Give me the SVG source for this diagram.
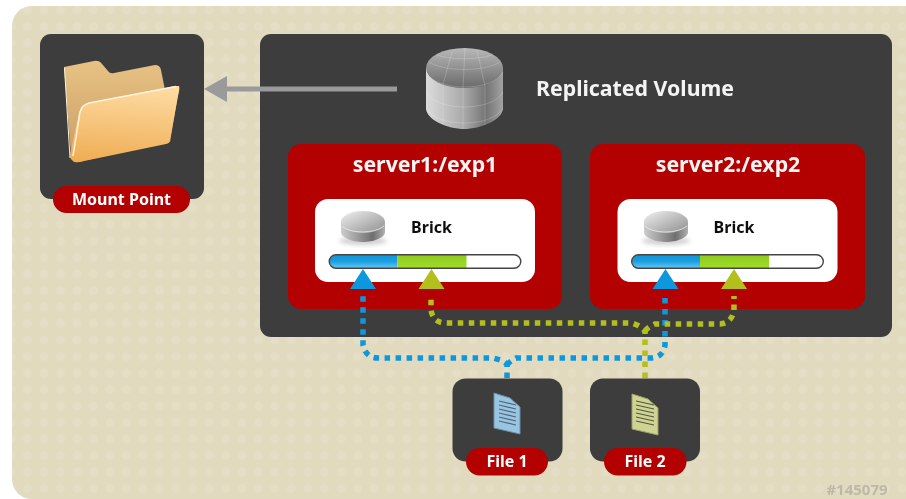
<svg xmlns="http://www.w3.org/2000/svg" width="906" height="499" viewBox="0 0 906 499">
<style>
text{font-family:"Noto Sans","Open Sans","DejaVu Sans",sans-serif;font-weight:700;text-anchor:middle}
.box{fill:#3d3d3d}
.red{fill:#b30000}
.pilltxt{fill:#fff;font-size:16px}
.title{fill:#f4f4f4;font-size:21.300px}
.white{fill:#fff}
.brick{fill:#111;font-size:16px}
.dash{fill:none;stroke-width:5.500;stroke-dasharray:5.500 5.500}
.blue{stroke:#0f97dc}
.lime{stroke:#b3bf1f}
.grid{fill:none;stroke:#fff;stroke-opacity:.28;stroke-width:.7}
</style>
<defs>
<pattern id="dots" width="16.5" height="16.5" patternUnits="userSpaceOnUse" x="3" y="2"><circle cx="8" cy="8" r="4.500" fill="#e8e3cf"/></pattern>
<linearGradient id="fb" x1="0" y1="0" x2="0" y2="1"><stop offset="0" stop-color="#e8c284"/><stop offset="1" stop-color="#c79c64"/></linearGradient>
<linearGradient id="ff" x1=".55" y1="0" x2=".45" y2="1"><stop offset="0" stop-color="#fddba3"/><stop offset="1" stop-color="#f0ae55"/></linearGradient>
<linearGradient id="barb" x1="0" y1="0" x2="0" y2="1"><stop offset="0" stop-color="#1193d8"/><stop offset=".5" stop-color="#1ba0e2"/><stop offset="1" stop-color="#6cc5f0"/></linearGradient>
<linearGradient id="barg" x1="0" y1="0" x2="0" y2="1"><stop offset="0" stop-color="#8ecb1c"/><stop offset="1" stop-color="#a0dc2a"/></linearGradient>
<linearGradient id="cyl" x1="0" y1="0" x2="1" y2="0"><stop offset="0" stop-color="#dcdcdc"/><stop offset=".5" stop-color="#a8a8a8"/><stop offset=".78" stop-color="#747474"/><stop offset="1" stop-color="#a2a2a2"/></linearGradient>
<linearGradient id="cylt" x1="0" y1="0" x2="0" y2="1"><stop offset="0" stop-color="#b8b8b8"/><stop offset="1" stop-color="#6a6a6a"/></linearGradient>
<linearGradient id="dt" x1="0" y1="0" x2="1" y2="1"><stop offset="0" stop-color="#f0f0f0"/><stop offset="1" stop-color="#8e8e8e"/></linearGradient>
<linearGradient id="ds" x1="0" y1="0" x2="1" y2="0"><stop offset="0" stop-color="#cdcdcd"/><stop offset=".72" stop-color="#6f6f6f"/><stop offset="1" stop-color="#b0b0b0"/></linearGradient>
<filter id="soft" x="-30%" y="-30%" width="160%" height="160%"><feGaussianBlur stdDeviation="2"/></filter>
<filter id="photo" x="0" y="0" width="100%" height="100%"><feGaussianBlur stdDeviation="0.45"/></filter>
<g id="disk">
<ellipse cx="0" cy="15" rx="24" ry="4" fill="#999" opacity=".45" filter="url(#soft)"/>
<path d="M-22-4V6C-22 12-10 16 0 16S22 12 22 6V-4Z" fill="url(#ds)"/>
<ellipse cx="0" cy="-4" rx="22" ry="11" fill="url(#dt)"/>
<path d="M-21 0C-14 8 12 8 21 0" fill="none" stroke="#eee" stroke-width=".8"/>
</g>
<g id="bar">
<rect x="0" y="0" width="193" height="15" rx="7.5" fill="#fff"/>
<path d="M69 1H7.5a6.5 6.5 0 0 0 0 13H69Z" fill="url(#barb)"/>
<rect x="69" y="1" width="69" height="13" fill="url(#barg)"/>
<rect x=".7" y=".7" width="191.600" height="13.600" rx="6.800" fill="none" stroke="#444" stroke-width="1.400"/>
</g>
<path id="tip" d="M0 0L13 20H-13Z"/>
<g id="sheet">
<path d="M0 0L16 5 26 14V41L0 35Z"/>
</g>
</defs>

<g filter="url(#photo)">
<g id="background">
<path d="M906 499H32A20 20 0 0 1 12 479V26A20 20 0 0 1 32 6H906Z" fill="#e1dabf"/>
<path d="M906 499H32A20 20 0 0 1 12 479V26A20 20 0 0 1 32 6H906Z" fill="url(#dots)" opacity=".42"/>
</g>

<g id="mount-point">
<rect class="box" x="40" y="34" width="164" height="165" rx="11"/>
<path d="M64 67L94 61Q99 60 102 64L108 71Q110 74 114 73L155 65Q160 65 161 70L165 90 179 88 170 142 78 162Q72 164 71 155Z" fill="url(#fb)"/>
<path d="M179 86Q180 88 178 96L170 140Q170 143 166 144L84 161Q75 164 72 160 69 158 71 150L79 113Q81 105 88 103L175 86Z" fill="url(#ff)"/>
<path d="M176 86.500L89 103Q82 105 80 112L73 156" fill="none" stroke="#fff3dc" stroke-width="1.500"/>
<path d="M64.500 68L70 158" fill="none" stroke="#fff3dc" stroke-width="1"/>
<rect class="red" x="53" y="186" width="137" height="27" rx="13.500"/>
<text class="pilltxt" x="121.500" y="205">Mount Point</text>
</g>

<g id="replicated-volume">
<rect class="box" x="260" y="34" width="632" height="303" rx="11"/>
<g id="volume-icon">
<path d="M426 68V108C426 120 448 129 464 129S503 120 503 108V68Z" fill="url(#cyl)"/>
<ellipse cx="464.500" cy="68" rx="38.500" ry="20" fill="url(#cylt)"/>
<path class="grid" d="M426 72C436 92 493 92 503 72M426 92C436 112 493 112 503 92M426 108C436 128 493 128 503 108M443 84V124M463 88V129M485 86V125M429 62C445 72 484 72 500 62M437 55C450 60 478 60 492 55M443 84L452 52M463 88L465 48M485 86L477 50"/>
</g>
<text class="title" x="635" y="96">Replicated Volume</text>
</g>

<g id="server1">
<rect class="red" x="288" y="144" width="274" height="165" rx="13"/>
<text class="title" x="425" y="172">server1:/exp1</text>
<rect class="white" x="315" y="199" width="220" height="83" rx="13"/>
<use href="#disk" x="363" y="226"/>
<text class="brick" x="431.500" y="233">Brick</text>
<use href="#bar" x="328.500" y="254"/>
</g>

<g id="server2">
<rect class="red" x="590" y="144" width="275" height="165" rx="13"/>
<text class="title" x="728" y="172">server2:/exp2</text>
<rect class="white" x="617.500" y="199" width="220" height="83" rx="13"/>
<use href="#disk" x="666" y="226"/>
<text class="brick" x="734" y="233">Brick</text>
<use href="#bar" x="631" y="254"/>
</g>

<g id="file1">
<rect class="box" x="452.500" y="378.500" width="110" height="83" rx="13"/>
<use href="#sheet" x="494" y="393" fill="#99c5e3" stroke="#6d8fa8" stroke-width="1"/>
<path d="M499 401L516 405M499 405L516 409M499 409L516 413M499 413L516 417M499 417L516 421M499 421L516 425" stroke="#4f6677" stroke-width="1.200"/>
<rect class="red" x="466" y="448" width="82" height="27.500" rx="13.700"/>
<text class="pilltxt" x="507" y="467">File 1</text>
</g>

<g id="file2">
<rect class="box" x="590" y="378.500" width="110" height="83" rx="13"/>
<use href="#sheet" x="632" y="394" fill="#cfd394" stroke="#9ba06a" stroke-width="1"/>
<path d="M636 401L654 405M636 405L654 409M636 409L654 413M636 413L654 417M636 417L654 421M636 421L654 425" stroke="#55573d" stroke-width="1.200"/>
<rect class="red" x="604" y="448" width="82.500" height="27.500" rx="13.700"/>
<text class="pilltxt" x="645" y="467">File 2</text>
</g>

<g id="connectors">
<path d="M397 89H220" fill="none" stroke="#9a9a9a" stroke-width="5"/>
<path d="M204 89L227 76V102Z" fill="#9a9a9a"/>
<path class="dash blue" d="M507 378V365Q506 362 500 360L493 358H378Q366 358 363 345V296"/>
<path class="dash blue" d="M507 365Q510 361 516 358H650Q663 358 665 345V296"/>
<path class="dash lime" d="M645 378V332Q644 328 637 325L632 323H446Q433 323 431 310V296"/>
<path class="dash lime" d="M645 331Q648 327 655 324H720Q732 323 734 310V296"/>
<use href="#tip" x="363" y="269" fill="#0f97dc"/>
<use href="#tip" x="431.500" y="269" fill="#b3bf1f"/>
<use href="#tip" x="665.500" y="269" fill="#0f97dc"/>
<use href="#tip" x="734" y="269" fill="#b3bf1f"/>
</g>

<text x="857" y="494.500" fill="#bdb9a6" style="font-size:15px">#145079</text>
</g>
</svg>
